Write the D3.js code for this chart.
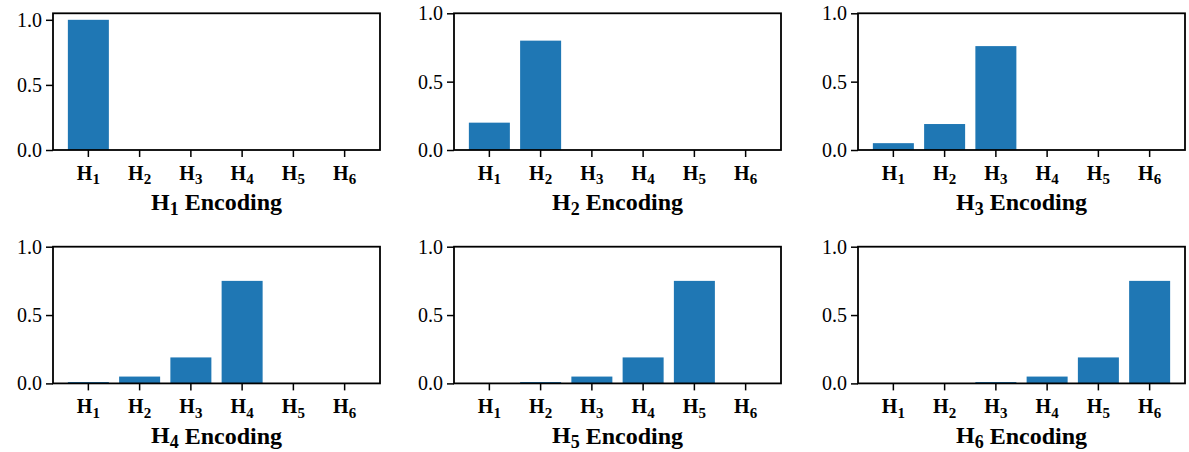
<!DOCTYPE html>
<html>
<head>
<meta charset="utf-8">
<script src="https://cdn.jsdelivr.net/npm/d3@7"></script>
<style>
  body { margin: 0; background: #fff; }
  svg text { font-family: "Liberation Serif", "Times New Roman", serif; fill: #000; }
</style>
</head>
<body>
<script>
var categories = ["1", "2", "3", "4", "5", "6"];

var h1Values = [1.0, 0, 0, 0, 0, 0];
var h2Values = [0.2, 0.8, 0, 0, 0, 0];
var h3Values = [0.05, 0.19, 0.76, 0, 0, 0];
var h4Values = [0.01, 0.05, 0.19, 0.75, 0, 0];
var h5Values = [0, 0.01, 0.05, 0.19, 0.75, 0];
var h6Values = [0, 0, 0.01, 0.05, 0.19, 0.75];

var panelNames = ["1", "2", "3", "4", "5", "6"];
var panelValues = [h1Values, h2Values, h3Values, h4Values, h5Values, h6Values];
var yTicks = [0, 0.5, 1.0];

var serif = "'Liberation Serif', 'Times New Roman', serif";

var chart = {
  width: 1189,
  height: 452,
  lefts: [53, 454, 858],
  tops: [13.3, 246.7],
  plotW: 327,
  plotH: 136.7,
  color: "#1f77b4"
};

var svg = d3.select("body").append("svg")
  .attr("width", chart.width)
  .attr("height", chart.height);

// subscripted H label, e.g. H₁
function hLabel(sel, n, suffix) {
  sel.append("tspan").text("H");
  sel.append("tspan").attr("font-size", "0.75em").attr("dy", "0.28em").text(n);
  if (suffix) sel.append("tspan").attr("dy", "-0.2em").text(suffix);
}

panelValues.forEach(function(values, i) {
  var col = i % 3, row = Math.floor(i / 3);
  var g = svg.append("g")
    .attr("transform", "translate(" + chart.lefts[col] + "," + chart.tops[row] + ")");

  // first panel autoscaled by matplotlib (max 1.0 + 5% margin)
  var yMax = d3.max(values) >= 1 ? d3.max(values) * 1.05 : 1.0;

  var x = d3.scaleBand().domain(categories).range([0, chart.plotW])
    .paddingInner(0.2).paddingOuter(0.29);
  var y = d3.scaleLinear().domain([0, yMax]).range([chart.plotH, 0]);

  g.selectAll("rect.bar").data(values).enter().append("rect")
    .attr("class", "bar")
    .attr("x", function(d, k) { return x(categories[k]); })
    .attr("width", x.bandwidth())
    .attr("y", function(d) { return y(d); })
    .attr("height", function(d) { return chart.plotH - y(d); })
    .style("fill", chart.color);

  // frame
  g.append("rect")
    .attr("width", chart.plotW).attr("height", chart.plotH)
    .style("fill", "none").style("stroke", "#000").style("stroke-width", 1.8);

  // y axis
  var yAxis = g.append("g").call(d3.axisLeft(y).tickValues(yTicks).tickFormat(d3.format(".1f")).tickSize(7).tickPadding(4));
  yAxis.select(".domain").remove();
  yAxis.selectAll("line").style("stroke-width", 1.5);
  yAxis.selectAll("text")
    .style("font-family", serif)
    .style("font-size", "20px");

  // x axis
  var xAxis = g.append("g").attr("transform", "translate(0," + chart.plotH + ")")
    .call(d3.axisBottom(x).tickSize(7).tickFormat(""));
  xAxis.select(".domain").remove();
  xAxis.selectAll("line").style("stroke-width", 1.5);

  g.selectAll("text.xlab").data(categories).enter().append("text")
    .attr("class", "xlab")
    .attr("x", function(d) { return x(d) + x.bandwidth() / 2; })
    .attr("y", chart.plotH + 30)
    .attr("text-anchor", "middle")
    .style("font-family", serif)
    .style("font-size", "20px").style("font-weight", "bold")
    .each(function(d) { hLabel(d3.select(this), d); });

  var title = g.append("text")
    .attr("x", chart.plotW / 2)
    .attr("y", chart.plotH + 60)
    .attr("text-anchor", "middle")
    .style("font-family", serif)
    .style("font-size", "24px").style("font-weight", "bold");
  hLabel(title, panelNames[i], " Encoding");
});
</script>
</body>
</html>
